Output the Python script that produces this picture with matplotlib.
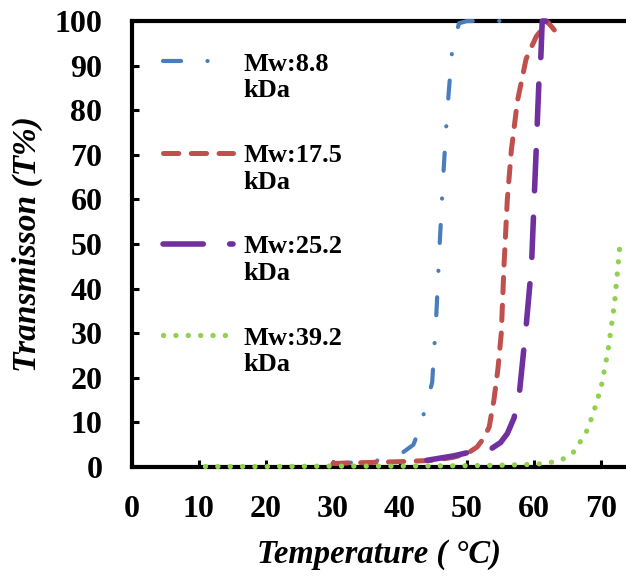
import matplotlib
matplotlib.use("Agg")
import numpy as np
import matplotlib.pyplot as plt
from matplotlib.legend_handler import HandlerLine2D

# ---- data ----
temp_88 = [30, 33, 36, 38, 40, 42, 43, 44, 44.8, 45.4, 45.9, 46.4, 47, 47.8, 48.8, 50, 52, 55]
trans_88 = [0.8, 1.0, 1.3, 1.8, 2.8, 5, 9, 14.4, 19, 33.7, 49.5, 64, 79, 94, 99.5, 100, 100, 100]

temp_175 = [30, 35, 40, 45, 48, 50, 51.5, 52.5, 53.3, 54, 54.6, 55.1, 55.5, 56, 56.6, 57.5, 58.8, 60.3, 62, 63]
trans_175 = [0.8, 1.0, 1.2, 1.5, 2.2, 3.0, 4.5, 6.5, 9, 15, 22, 30, 45, 60, 71, 82, 91.5, 96.5, 99.8, 98]

temp_252 = [44, 46, 48, 50, 52, 53.5, 55, 56, 57, 57.8, 58.8, 59.6, 60, 60.3, 60.7, 61, 61.2, 62.5]
trans_252 = [1.5, 2, 2.5, 3.2, 3.6, 4, 5.5, 7.5, 11, 16.6, 31.5, 45, 60, 71, 86, 92, 100, 100]

temp_392 = [11, 20, 30, 40, 50, 55, 60, 62, 64, 66, 68, 69, 70, 71, 72, 72.8]
trans_392 = [0.1, 0.1, 0.2, 0.2, 0.3, 0.4, 0.6, 0.9, 1.5, 3.5, 8.5, 13, 18, 26, 37, 50]

labels = ["Mw:8.8\nkDa", "Mw:17.5\nkDa", "Mw:25.2\nkDa", "Mw:39.2\nkDa"]
x_ticks = [0, 10, 20, 30, 40, 50, 60, 70]
y_ticks = [0, 10, 20, 30, 40, 50, 60, 70, 80, 90, 100]


class FirstLineHandler(HandlerLine2D):
    # put the legend line next to the first text line, like Excel does
    def create_artists(self, legend, orig_handle, xdescent, ydescent, width, height, fontsize, trans):
        arts = super().create_artists(legend, orig_handle, xdescent, ydescent, width, height, fontsize, trans)
        for a in arts:
            a.set_ydata(np.asarray(a.get_ydata()) + 0.6 * fontsize)
        return arts


plt.rcParams["font.family"] = "Liberation Serif"
plt.rcParams["font.weight"] = "bold"
plt.rcParams["lines.scale_dashes"] = False

fig = plt.figure(figsize=(6.26, 5.76), dpi=100)
ax = fig.add_axes([0.2103, 0.1892, 0.7898, 0.7743])

common = dict(zorder=3, clip_on=False, dash_capstyle="round", solid_capstyle="round")
l1, = ax.plot(temp_88, trans_88, color="#4a7ebb", lw=3.0, dashes=(13, 19, 0.1, 20), label=labels[0], **common)
l2, = ax.plot(temp_175, trans_175, color="#c0504d", lw=3.6, dashes=(11, 9), label=labels[1], **common)
l3, = ax.plot(temp_252, trans_252, color="#7030a0", lw=4.0, dashes=(29, 19), label=labels[2], **common)
l4, = ax.plot(temp_392, trans_392, color="#92d050", lw=3.8, dashes=(0.1, 8.8), label=labels[3], **common)

ax.set_xlim(0, 73.7)
ax.set_ylim(0, 100)
ax.set_xticks(x_ticks)
ax.set_yticks(y_ticks)
ax.tick_params(direction="in", length=5, width=2.2, labelsize=23)
ax.tick_params(axis="x", pad=20)
ax.tick_params(axis="y", pad=21)
for side in ["left", "bottom", "top"]:
    ax.spines[side].set_linewidth(3)
ax.spines["right"].set_visible(False)

ax.set_xlabel("Temperature ( \u00b0C)", fontsize=23.5, fontstyle="italic", fontweight="bold", labelpad=11)
ax.set_ylabel("Transmisson (T%)", fontsize=24, fontstyle="italic", fontweight="bold", labelpad=8)

h = FirstLineHandler()
ax.legend(loc="upper left", bbox_to_anchor=(0.064, 0.929), frameon=False, fontsize=19,
          handlelength=2.64, handletextpad=0.39, labelspacing=1.58, borderpad=0, borderaxespad=0,
          handler_map={l1: h, l2: h, l3: h, l4: h})

fig.savefig("out.png", dpi=100)
